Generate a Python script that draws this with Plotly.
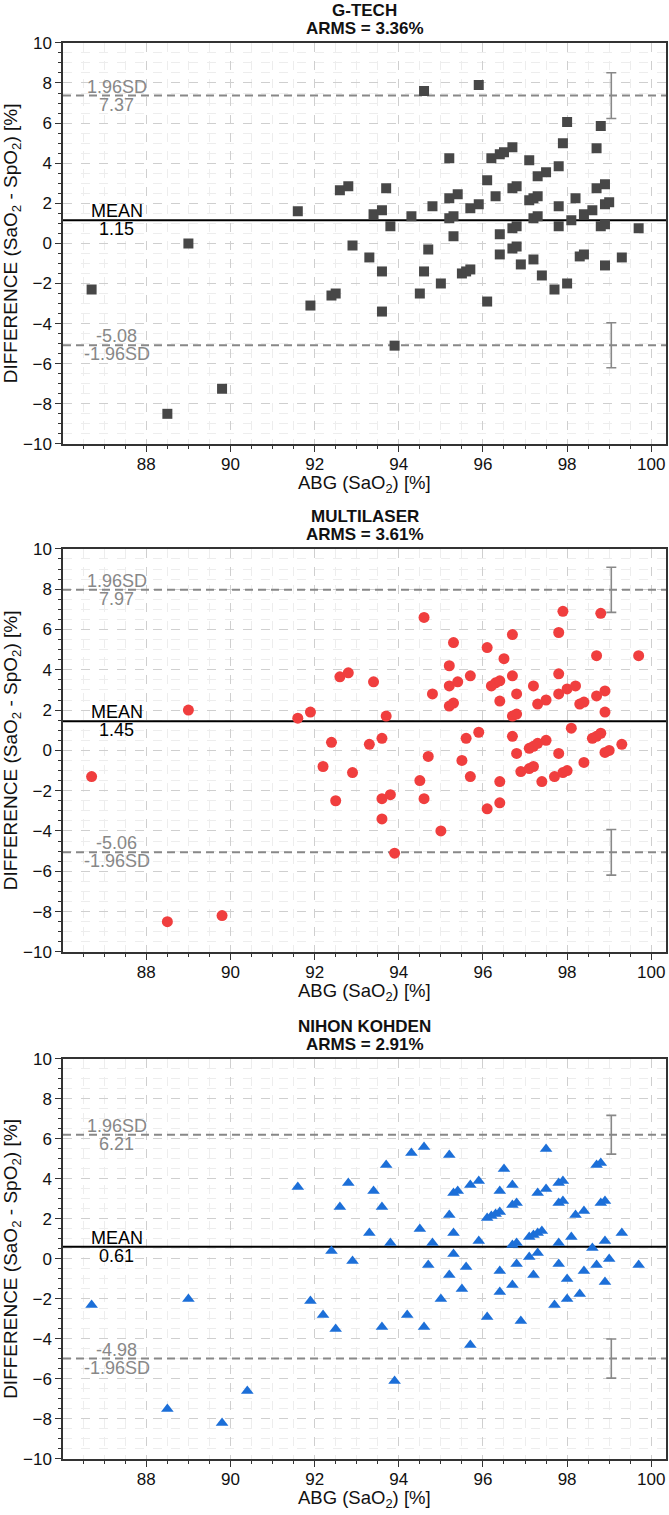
import plotly.graph_objects as go

# ---------------- data ----------------
devices = ["G-TECH", "MULTILASER", "NIHON KOHDEN"]
arms = [3.36, 3.61, 2.91]
means = [1.15, 1.45, 0.61]
upper_loa = [7.37, 7.97, 6.21]
lower_loa = [-5.08, -5.06, -4.98]
upper_ci = [1.14, 1.12, 0.97]
lower_ci = [1.12, 1.13, 0.98]

gtech_x = [86.7, 88.5, 89.0, 89.8, 91.6, 91.9, 92.4, 92.5, 92.6, 92.8, 92.9, 93.3, 93.4, 93.6,
           93.6, 93.6, 93.7, 93.8, 93.9, 94.3, 94.5, 94.6, 94.6, 94.7, 94.8, 95.0, 95.2, 95.2,
           95.2, 95.4, 95.3, 95.3, 95.5, 95.6, 95.7, 95.7, 95.9, 95.9, 96.1, 96.1, 96.2, 96.3,
           96.4, 96.4, 96.4, 96.5, 96.7, 96.7, 96.8, 96.7, 96.8, 96.7, 96.8, 96.9, 97.1, 97.1,
           97.2, 97.3, 97.2, 97.3, 97.2, 97.3, 97.5, 97.4, 97.7, 97.8, 97.8, 97.8, 97.9, 98.0,
           98.0, 98.1, 98.2, 98.3, 98.4, 98.4, 98.6, 98.7, 98.7, 98.8, 98.9, 98.8, 98.9, 98.9,
           99.0, 98.9, 99.3, 99.7]
gtech_y = [-2.3, -8.5, 0.0, -7.25, 1.6, -3.1, -2.6, -2.5, 2.65, 2.85, -0.1, -0.7, 1.45, 1.65,
           -1.4, -3.4, 2.75, 0.85, -5.1, 1.35, -2.5, -1.4, 7.6, -0.3, 1.85, -2.0, 4.25, 2.25,
           1.25, 2.45, 1.35, 0.35, -1.5, -1.4, -1.3, 1.75, 1.95, 7.9, 3.15, -2.9, 4.25, 2.35,
           4.45, 0.45, -0.55, 4.55, 4.8, 2.75, 2.85, 0.75, 0.85, -0.25, -0.15, -1.05, 4.15, 2.15,
           2.25, 2.35, 1.25, 1.35, -0.8, 3.35, 3.55, -1.6, -2.3, 3.85, 1.85, 0.85, 5.0, 6.05,
           -2.0, 1.15, 2.25, -0.65, -0.55, 1.45, 1.65, 4.75, 2.75, 5.85, 2.95, 0.85, 0.95, 1.95,
           2.05, -1.1, -0.7, 0.75]

multi_x = [86.7, 88.5, 89.0, 89.8, 91.6, 91.9, 92.2, 92.4, 92.5, 92.6, 92.8, 92.9, 93.3, 93.4,
           93.6, 93.6, 93.6, 93.7, 93.8, 93.9, 94.5, 94.6, 94.6, 94.7, 94.8, 95.0, 95.2, 95.2,
           95.2, 95.3, 95.3, 95.4, 95.5, 95.6, 95.7, 95.7, 95.9, 96.1, 96.1, 96.2, 96.3, 96.4,
           96.4, 96.4, 96.4, 96.5, 96.7, 96.7, 96.7, 96.7, 96.8, 96.8, 96.8, 96.9, 97.1, 97.1,
           97.2, 97.2, 97.2, 97.3, 97.3, 97.4, 97.5, 97.5, 97.7, 97.8, 97.8, 97.8, 97.8, 97.9,
           97.9, 98.0, 98.0, 98.1, 98.2, 98.3, 98.4, 98.4, 98.6, 98.7, 98.7, 98.7, 98.8, 98.8,
           98.9, 98.9, 98.9, 99.0, 99.3, 99.7]
multi_y = [-1.3, -8.5, 2.0, -8.2, 1.6, 1.9, -0.8, 0.4, -2.5, 3.65, 3.85, -1.1, 0.3, 3.4,
           0.6, -2.4, -3.4, 1.7, -2.2, -5.1, -1.5, -2.4, 6.6, -0.3, 2.8, -4.0, 4.2, 3.2,
           2.2, 5.35, 2.35, 3.4, -0.5, 0.6, 3.7, -1.3, 0.9, 5.1, -2.9, 3.2, 3.35, 3.45,
           2.45, -1.55, -2.6, 4.55, 5.75, 3.7, 1.7, 0.7, 2.8, 1.8, -0.15, -1.05, 0.1, -0.9,
           3.2, 0.2, -0.8, 2.3, 0.35, -1.55, 2.5, 0.5, -1.3, 5.85, 3.8, 2.8, -0.15, 6.9,
           -1.1, 3.05, -1.0, 1.1, 3.2, 2.3, 2.4, -0.6, 0.6, 4.7, 2.7, 0.7, 6.8, 0.85,
           2.95, 1.9, -0.1, 0.0, 0.3, 4.7]

nihon_x = [86.7, 88.5, 89.0, 89.8, 90.4, 91.6, 91.9, 92.2, 92.4, 92.5, 92.6, 92.8, 92.9, 93.3,
           93.4, 93.6, 93.6, 93.7, 93.8, 93.9, 94.2, 94.3, 94.5, 94.6, 94.6, 94.7, 94.8, 95.0,
           95.2, 95.2, 95.2, 95.3, 95.3, 95.3, 95.4, 95.5, 95.6, 95.7, 95.7, 95.9, 95.9, 96.1,
           96.1, 96.2, 96.3, 96.4, 96.4, 96.4, 96.4, 96.5, 96.7, 96.7, 96.7, 96.7, 96.8, 96.8,
           96.8, 96.9, 97.1, 97.1, 97.2, 97.2, 97.3, 97.3, 97.3, 97.4, 97.5, 97.5, 97.7, 97.8,
           97.8, 97.8, 97.8, 97.9, 97.9, 98.0, 98.0, 98.1, 98.2, 98.3, 98.4, 98.4, 98.6, 98.7,
           98.7, 98.8, 98.8, 98.9, 98.9, 98.9, 99.0, 99.3, 99.7]
nihon_y = [-2.3, -7.5, -2.0, -8.2, -6.6, 3.6, -2.1, -2.8, 0.4, -3.5, 2.6, 3.8, -0.1, 1.3,
           3.4, 2.6, -3.4, 4.7, 0.8, -6.1, -2.8, 5.3, 1.5, 5.6, -3.4, -0.3, 0.8, -2.0,
           5.2, 2.2, -0.8, 3.3, 1.3, 0.25, 3.4, -1.5, -0.4, 3.7, -4.3, 3.9, 0.9, 2.05,
           -2.9, 2.15, 2.25, 2.35, 3.4, -0.6, -1.65, 4.5, 3.7, 2.7, 0.7, -1.3, 2.8, 0.8,
           -0.25, -3.1, 1.1, 0.1, 1.2, -0.8, 1.3, 3.3, 0.3, 1.4, 5.5, 3.5, -2.3, 3.8,
           2.8, 0.8, -0.25, 3.9, 2.9, -1.0, -2.0, 1.1, 2.2, -1.75, 2.4, -0.6, 0.55, 4.7,
           -0.3, 4.8, 2.8, 2.9, 0.9, -1.15, 0.0, 1.3, -0.3]

xs = [gtech_x, multi_x, nihon_x]
ys = [gtech_y, multi_y, nihon_y]

# ---------------- styles ----------------
FONT = "Liberation Sans"
symbols = ["square", "circle", "triangle-up"]
colors = ["#474747", "#f03e3e", "#1c6fd8"]
msizes = [10, 11, 11]
GREY = "#888888"
domains = [[0.7070, 0.9717], [0.3717, 0.6377], [0.0370, 0.3010]]
XR = [86.02, 100.35]
EB_X = 99.05
TXT_X = 87.3
TXT_FRAC = (TXT_X - XR[0]) / (XR[1] - XR[0])

fig = go.Figure()
annotations = []

for i in range(3):
    sfx = "" if i == 0 else str(i + 1)
    xa, ya = "x" + sfx, "y" + sfx

    # limits of agreement (dashed) and mean (solid) drawn across the full axis range
    for v in (upper_loa[i], lower_loa[i]):
        fig.add_trace(go.Scatter(
            x=XR, y=[v, v], mode="lines", xaxis=xa, yaxis=ya,
            line=dict(color=GREY, width=2, dash="8px,5px"),
            showlegend=False, hoverinfo="skip"))
    fig.add_trace(go.Scatter(
        x=XR, y=[means[i], means[i]], mode="lines", xaxis=xa, yaxis=ya,
        line=dict(color="black", width=2), showlegend=False, hoverinfo="skip"))

    fig.add_trace(go.Scatter(
        x=xs[i], y=ys[i], mode="markers", xaxis=xa, yaxis=ya,
        marker=dict(symbol=symbols[i], size=msizes[i], color=colors[i], line=dict(width=0)),
        showlegend=False, hoverinfo="skip"))
    # confidence interval bars of the limits of agreement
    fig.add_trace(go.Scatter(
        x=[EB_X, EB_X], y=[upper_loa[i], lower_loa[i]], mode="markers", xaxis=xa, yaxis=ya,
        marker=dict(size=1, color="rgba(0,0,0,0)"),
        error_y=dict(type="data", array=[upper_ci[i], lower_ci[i]], symmetric=True,
                     color=GREY, thickness=1.6, width=5),
        showlegend=False, hoverinfo="skip"))

    common_ax = dict(
        ticks="outside", ticklen=6, tickwidth=1.2, tickcolor="#333333",
        showline=True, linecolor="#333333", linewidth=1.5, mirror=True,
        showgrid=True, gridcolor="#cfcfcf", griddash="dash", gridwidth=1,
        zeroline=False, automargin=False,
        tickfont=dict(family=FONT, size=17, color="#111111"),
        minor=dict(dtick=0.5, ticks="outside", ticklen=3.5, tickwidth=1, tickcolor="#333333",
                   showgrid=True, gridcolor="#ededed", gridwidth=1),
    )
    fig.layout["xaxis" + sfx] = dict(
        common_ax, domain=[0, 1], anchor=ya, range=XR, dtick=2, tick0=0,
        ticklabelstandoff=-2)
    fig.layout["yaxis" + sfx] = dict(
        common_ax, domain=domains[i], anchor=xa, range=[-10, 10], dtick=2, tick0=0,
        title=dict(text="DIFFERENCE (SaO<sub>2</sub> - SpO<sub>2</sub>) [%]",
                   font=dict(family=FONT, size=19, color="#111111"), standoff=4))

    # x-axis title
    annotations.append(dict(
        text="ABG (SaO<sub>2</sub>) [%]", x=0.5, y=0, xref=xa + " domain", yref=ya + " domain",
        showarrow=False, xanchor="center", yanchor="middle", yshift=-40,
        font=dict(family=FONT, size=18.5, color="#111111")))

    def txt(text, y, above, color):
        annotations.append(dict(
            text=text, x=TXT_FRAC, y=y, xref=xa + " domain", yref=ya, showarrow=False,
            xanchor="center", yanchor="bottom" if above else "top",
            yshift=-3 if above else 3, font=dict(family=FONT, size=18, color=color)))

    txt("1.96SD", upper_loa[i], True, GREY)
    txt(f"{upper_loa[i]:.2f}", upper_loa[i], False, GREY)
    txt("MEAN", means[i], True, "black")
    txt(f"{means[i]:.2f}", means[i], False, "black")
    txt(f"{lower_loa[i]:.2f}", lower_loa[i], True, GREY)
    txt("-1.96SD", lower_loa[i], False, GREY)

    annotations.append(dict(
        text=f"<b>{devices[i]}</b>", x=0.5, y=1, xref=xa + " domain", yref=ya + " domain",
        showarrow=False, xanchor="center", yanchor="bottom", yshift=21,
        font=dict(family=FONT, size=17, color="#111111")))
    annotations.append(dict(
        text=f"<b>ARMS = {arms[i]:.2f}%</b>", x=0.5, y=1, xref=xa + " domain", yref=ya + " domain",
        showarrow=False, xanchor="center", yanchor="bottom", yshift=3,
        font=dict(family=FONT, size=17, color="#111111")))

fig.update_layout(
    width=669, height=1515,
    margin=dict(l=63, r=3, t=0, b=0),
    paper_bgcolor="white", plot_bgcolor="white",
    font=dict(family=FONT, color="#111111"),
    annotations=annotations,
    showlegend=False,
)

fig.write_html("out.html")
